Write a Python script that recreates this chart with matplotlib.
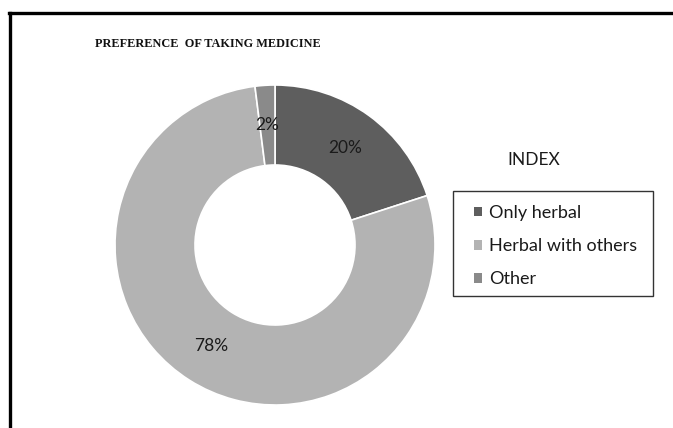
import matplotlib
matplotlib.use('Agg')
import matplotlib.pyplot as plt
from matplotlib.patches import Patch, Rectangle
from matplotlib.lines import Line2D

# data
labels = ['Only herbal', 'Herbal with others', 'Other']
values = [20, 78, 2]
colors = ['#5e5e5e', '#b3b3b3', '#8a8a8a']

W, H = 673, 428
fig = plt.figure(figsize=(W / 100, H / 100), dpi=100)

# donut centred at (275, 245) px, radius 160 px
cx, cy, r = 275, 245, 160
ax = fig.add_axes([(cx - r) / W, (H - cy - r) / H, 2 * r / W, 2 * r / H])
wedges, texts, autotexts = ax.pie(values, colors=colors, startangle=90, counterclock=False,
                                  radius=1, autopct='%d%%', pctdistance=0.75,
                                  wedgeprops=dict(width=0.5, edgecolor='white', linewidth=1.2),
                                  textprops=dict(fontsize=12.5, family='Lato', color='#1a1a1a'))
ax.set_xlim(-1, 1)
ax.set_ylim(-1, 1)
ax.set_aspect('auto')
ax.axis('off')

# title
fig.text(95 / W, 1 - 44 / H, 'PREFERENCE  OF TAKING MEDICINE', family='Liberation Serif',
         fontweight='bold', fontsize=8.8, color='#111111', va='center', ha='left')

# legend
fig.text(534 / W, 1 - 160 / H, 'INDEX', family='Lato', fontsize=12.5, color='#1a1a1a',
         ha='center', va='center')
handles = [Patch(facecolor=c, edgecolor='none') for c in colors]
leg = fig.legend(handles, labels, loc='upper left', bbox_to_anchor=(474 / W, 1 - 205 / H),
                 frameon=False, prop=dict(family='Lato', size=13),
                 handlelength=0.45, handleheight=0.45, handletextpad=0.4,
                 labelspacing=0.95, borderpad=0, borderaxespad=0)
for t in leg.get_texts():
    t.set_color('#1a1a1a')
fig.add_artist(Rectangle((453 / W, 1 - 296 / H), 200 / W, 105 / H, transform=fig.transFigure,
                         facecolor='none', edgecolor='#333333', lw=1.0))

# outer frame (left and top edges visible)
fig.add_artist(Line2D([10 / W, 10 / W], [0, 1 - 12.5 / H], color='black', lw=2.4,
                      transform=fig.transFigure))
fig.add_artist(Line2D([9 / W, 1], [1 - 12.5 / H, 1 - 12.5 / H], color='black', lw=2.4,
                      transform=fig.transFigure))

fig.savefig('out.png', dpi=100)
